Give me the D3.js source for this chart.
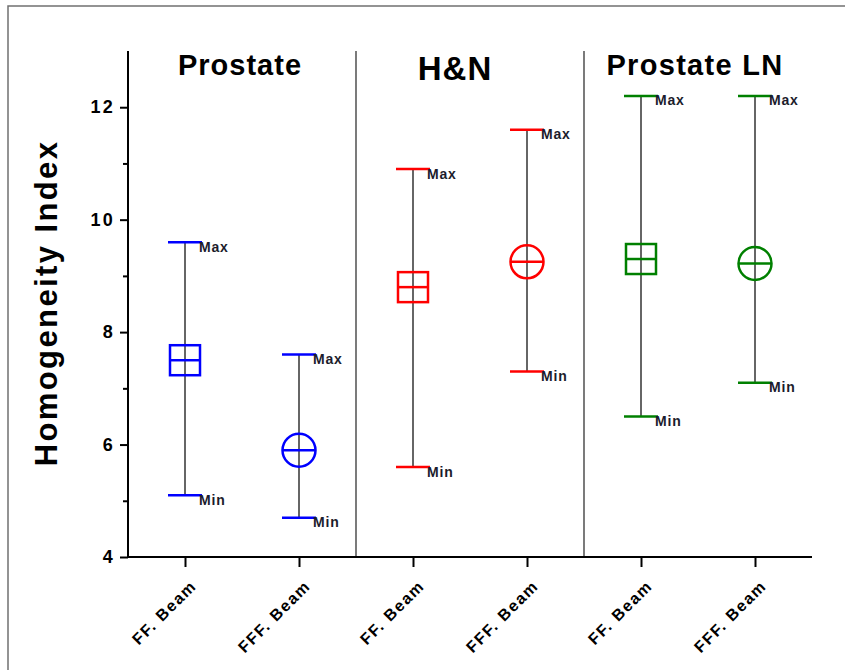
<!DOCTYPE html>
<html>
<head>
<meta charset="utf-8">
<script src="https://cdn.jsdelivr.net/npm/d3@7"></script>
<style>
  body { margin: 0; background: #fff; }
  svg { display: block; font-family: Arial, "Liberation Sans", sans-serif; }
</style>
</head>
<body>
<svg id="chart" width="845" height="670"></svg>
<script>
// Homogeneity index per plan: mean with min/max range, FF vs FFF beams
const groups = ["Prostate", "H&N", "Prostate LN"];
const beams = ["FF. Beam", "FFF. Beam"];
const groupColors = ["#0000ff", "#ff0000", "#008000"];
const meanValues = [7.5, 5.9, 8.8, 9.25, 9.3, 9.22];
const minValues = [5.1, 4.7, 5.6, 7.3, 6.5, 7.1];
const maxValues = [9.6, 7.6, 10.9, 11.6, 12.2, 12.2];
const yTicks = [4, 6, 8, 10, 12];
const yMinorTicks = [5, 7, 9, 11];

const svg = d3.select("#chart");
const W = 845, H = 670;
const m = { left: 128, right: 33, top: 51, bottom: 113 };

// outer frame (top and left edges)
svg.append("path")
  .attr("d", `M8,${H} L8,6 L${W},6`)
  .attr("fill", "none").attr("stroke", "#707070").attr("stroke-width", 1.5);

const cats = d3.range(meanValues.length);
const x = d3.scalePoint().domain(cats)
  .range([m.left, W - m.right]).padding(0.5);
const y = d3.scaleLinear().domain([4, 13]).range([H - m.bottom, m.top]);

const rows = cats.map(i => ({
  i, g: Math.floor(i / 2), beam: beams[i % 2],
  mean: meanValues[i], min: minValues[i], max: maxValues[i]
}));

// group separators
const step = x.step();
[1, 2].forEach(k => {
  const sx = x(k * 2) - step / 2;
  svg.append("line")
    .attr("x1", sx).attr("x2", sx)
    .attr("y1", y(13)).attr("y2", y(4))
    .attr("stroke", "#333").attr("stroke-width", 1.3);
});

// group titles
const titleStyle = [
  { dx: -2, y: 75, size: 29, ls: 1 },
  { dx: -15, y: 80, size: 33, ls: 1 },
  { dx: -3, y: 75, size: 29, ls: 1.3 }
];
groups.forEach((g, k) => {
  const s = titleStyle[k];
  const cx = (x(k * 2) + x(k * 2 + 1)) / 2 + s.dx;
  svg.append("text")
    .attr("x", cx).attr("y", s.y)
    .attr("text-anchor", "middle")
    .attr("font-size", s.size).attr("font-weight", "bold")
    .attr("letter-spacing", s.ls)
    .attr("fill", "#000")
    .text(g);
});

// y axis
const yAxis = svg.append("g").attr("transform", `translate(${m.left},0)`)
  .call(d3.axisLeft(y).tickValues(yTicks).tickSize(8).tickPadding(5).tickFormat(d3.format("d")));
yAxis.select(".domain").attr("stroke", "#000").attr("stroke-width", 2).attr("d", `M0,${y(13)}V${y(4)}`);
yAxis.selectAll(".tick line").attr("stroke", "#000").attr("stroke-width", 2);
yAxis.selectAll(".tick text")
  .attr("font-size", 18).attr("font-weight", "bold").attr("fill", "#000")
  .attr("letter-spacing", 2.2).attr("font-family", "Arial, 'Liberation Sans', sans-serif");
const yMinor = svg.append("g").attr("transform", `translate(${m.left},0)`)
  .call(d3.axisLeft(y).tickValues(yMinorTicks).tickSize(5).tickFormat(""));
yMinor.select(".domain").remove();
yMinor.selectAll(".tick line").attr("stroke", "#000").attr("stroke-width", 2);

// x axis
const xAxis = svg.append("g").attr("transform", `translate(0,${y(4)})`)
  .call(d3.axisBottom(x).tickSize(10).tickFormat(i => beams[i % 2]));
xAxis.select(".domain").attr("stroke", "#000").attr("stroke-width", 2)
  .attr("d", `M${m.left},0H${W - m.right}`);
xAxis.selectAll(".tick line").attr("stroke", "#000").attr("stroke-width", 2);
xAxis.selectAll(".tick text")
  .attr("font-size", 16).attr("font-weight", "bold").attr("fill", "#000")
  .attr("font-family", "Arial, 'Liberation Sans', sans-serif")
  .attr("letter-spacing", 1.6)
  .attr("text-anchor", "end")
  .attr("dy", 0).attr("y", 0)
  .attr("transform", "translate(12,30) rotate(-45)");

// y axis title
svg.append("text")
  .attr("transform", `translate(57,303) rotate(-90)`)
  .attr("text-anchor", "middle")
  .attr("font-size", 31).attr("font-weight", "bold").attr("fill", "#000")
  .attr("letter-spacing", 2.4)
  .text("Homogeneity Index");

// range whiskers
const marks = svg.append("g");
marks.selectAll("line.whisker").data(rows).join("line")
  .attr("class", "whisker")
  .attr("x1", d => x(d.i)).attr("x2", d => x(d.i))
  .attr("y1", d => y(d.max)).attr("y2", d => y(d.min))
  .attr("stroke", "#333").attr("stroke-width", 1.5);

const capHalf = 17;
["min", "max"].forEach(key => {
  marks.selectAll(`line.cap-${key}`).data(rows).join("line")
    .attr("x1", d => x(d.i) - capHalf).attr("x2", d => x(d.i) + capHalf)
    .attr("y1", d => y(d[key])).attr("y2", d => y(d[key]))
    .attr("stroke", d => groupColors[d.g]).attr("stroke-width", 2.5);
  marks.selectAll(`text.lab-${key}`).data(rows).join("text")
    .attr("x", d => x(d.i) + 14).attr("y", d => y(d[key]) + 9.5)
    .attr("font-size", 14).attr("font-weight", "bold").attr("fill", "#1c1c2c")
    .attr("letter-spacing", 0.8)
    .text(key === "min" ? "Min" : "Max");
});

// mean markers: square for FF, circle for FFF
const half = 15;
rows.forEach(d => {
  const cx = x(d.i), cy = y(d.mean), c = groupColors[d.g];
  if (d.i % 2 === 0) {
    marks.append("rect")
      .attr("x", cx - half).attr("y", cy - half)
      .attr("width", half * 2).attr("height", half * 2)
      .attr("fill", "none").attr("stroke", c).attr("stroke-width", 2.5);
    marks.append("line")
      .attr("x1", cx - half).attr("x2", cx + half)
      .attr("y1", cy).attr("y2", cy)
      .attr("stroke", c).attr("stroke-width", 2.5);
  } else {
    marks.append("circle")
      .attr("cx", cx).attr("cy", cy).attr("r", 16.5)
      .attr("fill", "none").attr("stroke", c).attr("stroke-width", 2.5);
    marks.append("line")
      .attr("x1", cx - 16.5).attr("x2", cx + 16.5)
      .attr("y1", cy).attr("y2", cy)
      .attr("stroke", c).attr("stroke-width", 2.5);
  }
});
</script>
</body>
</html>
